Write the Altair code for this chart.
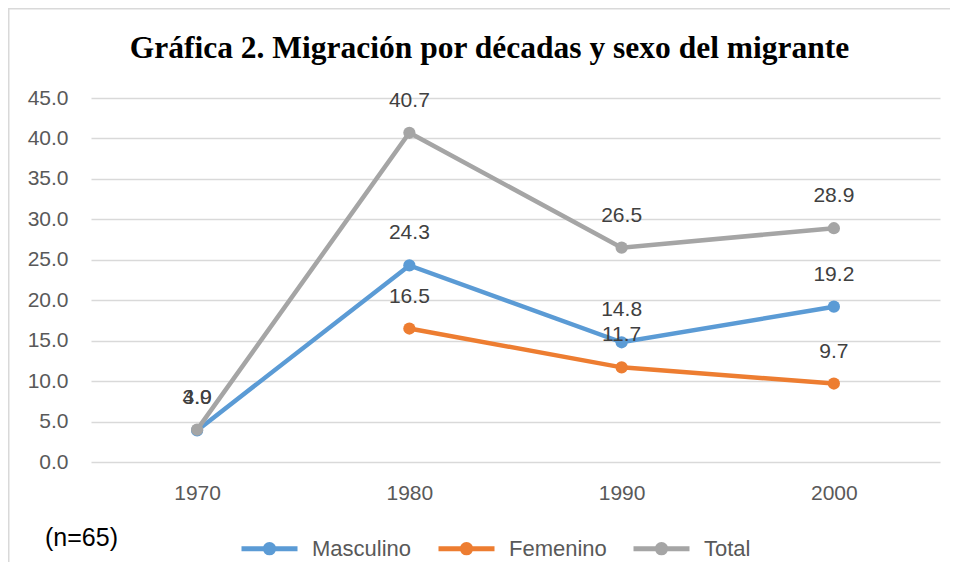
import altair as alt
import pandas as pd

decades = ["1970", "1980", "1990", "2000"]
masculino = [3.9, 24.3, 14.8, 19.2]
femenino = [None, 16.5, 11.7, 9.7]
total = [4.0, 40.7, 26.5, 28.9]
series = ["Masculino", "Femenino", "Total"]
colors = ["#5B9BD5", "#ED7D31", "#A5A5A5"]
y_ticks = [0, 5, 10, 15, 20, 25, 30, 35, 40, 45]
title_text = "Gráfica 2. Migración por décadas y sexo del migrante"
note_text = "(n=65)"

rows = []
for i, (name, vals) in enumerate(zip(series, [masculino, femenino, total])):
    for d, v in zip(decades, vals):
        if v is not None:
            rows.append({"decada": d, "serie": name, "valor": v, "orden": i})
df = pd.DataFrame(rows)

FONT = "Liberation Sans"

x = alt.X("decada:O", scale=alt.Scale(type="point", padding=0.5),
          axis=alt.Axis(title=None, labelAngle=0, domain=False, ticks=False,
                        labelPadding=20, labelFontSize=21, labelColor="#595959",
                        labelFont=FONT, grid=False))
y = alt.Y("valor:Q", scale=alt.Scale(domain=[0, 45], nice=False),
          axis=alt.Axis(title=None, values=y_ticks, format=".1f", domain=False,
                        ticks=False, labelPadding=23, gridColor="#D9D9D9",
                        gridWidth=1.3, labelFontSize=21, labelColor="#595959",
                        labelFont=FONT))

legend_path = ("M-1,0L1,0M0.15,0A0.15,0.15 0 1,1 -0.15,0"
               "A0.15,0.15 0 1,1 0.15,0Z")
color = alt.Color("serie:N", scale=alt.Scale(domain=series, range=colors),
                  sort=series,
                  legend=alt.Legend(title=None, orient="none", legendX=148,
                                    legendY=420, direction="horizontal",
                                    symbolType=legend_path, symbolSize=3136,
                                    symbolStrokeWidth=5, labelFontSize=22,
                                    labelFont=FONT, labelColor="#595959",
                                    labelOffset=12, columnPadding=16))

base = alt.Chart(df)
lines = base.mark_line(strokeWidth=4.5).encode(x=x, y=y, color=color,
                                               order=alt.Order("decada:O"))
points = base.mark_point(filled=True, size=150, opacity=1).encode(
    x=x, y=y, color=color)
labels = base.mark_text(dy=-32, fontSize=21, font=FONT, color="#404040").encode(
    x=x, y=y, text=alt.Text("valor:Q", format=".1f"))

note = alt.Chart(pd.DataFrame({"t": [note_text]})).mark_text(
    align="left", baseline="middle", fontSize=25, font=FONT, color="#000000"
).encode(x=alt.value(-46), y=alt.value(440), text="t:N")

frame = alt.Chart(pd.DataFrame({"a": [0]})).mark_rect(
    fillOpacity=0, stroke="#D9D9D9", strokeWidth=2
).encode(x=alt.value(-82.5), x2=alt.value(900), y=alt.value(-89.5),
         y2=alt.value(600))

chart = alt.layer(frame, lines, points, labels, note).properties(
    width=849, height=364,
    autosize=alt.AutoSizeParams(type="none"),
    padding={"left": 83, "top": 90, "right": 10, "bottom": 100},
    title=alt.TitleParams(title_text, font="Liberation Serif", fontSize=31.5,
                          fontWeight="bold", color="#000000", anchor="middle",
                          baseline="alphabetic", dx=-26, dy=81.5, offset=0,
                          frame="group"),
    background="white",
).configure_view(stroke=None)

chart.save("out.html", embed_options={"renderer": "svg", "actions": False})
